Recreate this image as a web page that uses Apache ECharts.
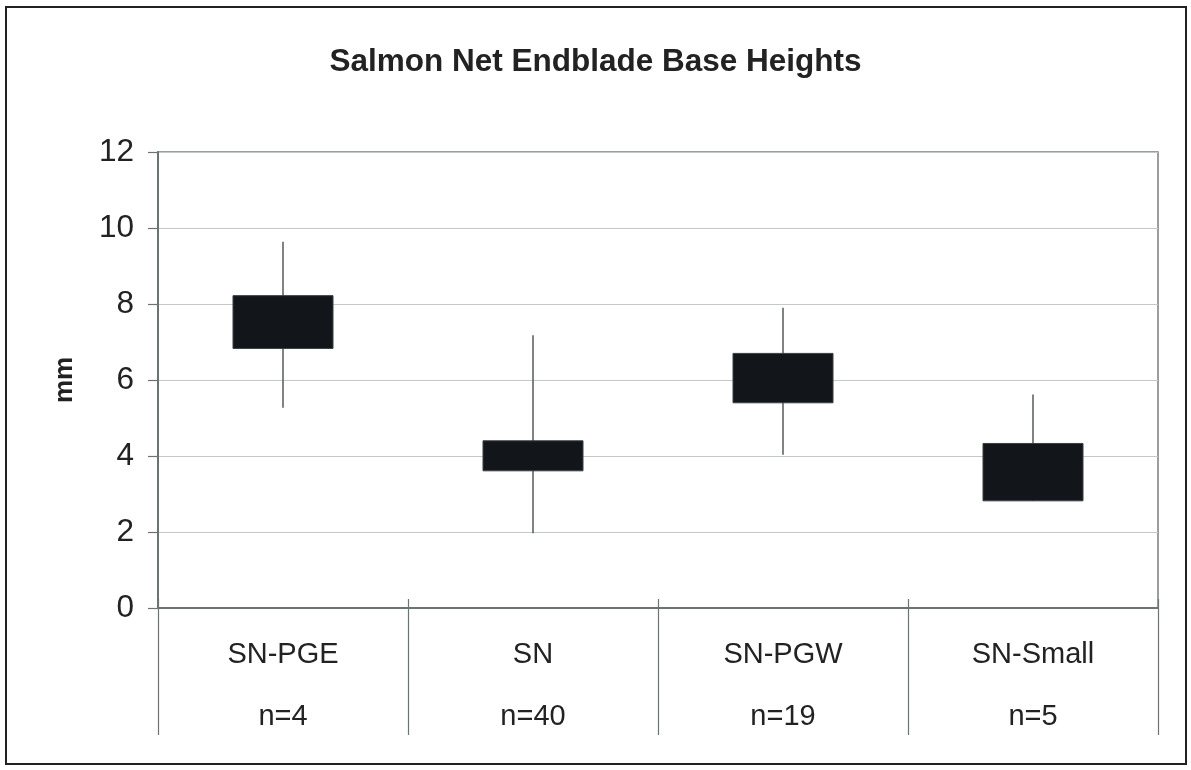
<!DOCTYPE html>
<html>
<head>
<meta charset="utf-8">
<script src="https://cdn.jsdelivr.net/npm/echarts@6/dist/echarts.min.js"></script>
<style>
html,body{margin:0;padding:0;background:#fff;}
#chart{width:1191px;height:770px;}
</style>
</head>
<body>
<div id="chart"></div>
<script>
const titleText = 'Salmon Net Endblade Base Heights';
const categories = ['SN-PGE', 'SN', 'SN-PGW', 'SN-Small'];
const nLabels = ['n=4', 'n=40', 'n=19', 'n=5'];
const boxLow = [6.83, 3.61, 5.40, 2.82];
const boxHigh = [8.22, 4.40, 6.70, 4.33];
const whiskerLow = [5.27, 1.97, 4.03, 2.82];
const whiskerHigh = [9.64, 7.18, 7.90, 5.62];
const yTicks = [0, 2, 4, 6, 8, 10, 12];

const seriesData = categories.map((c, i) => [i, boxLow[i], boxHigh[i], whiskerLow[i], whiskerHigh[i]]);

const chart = echarts.init(document.getElementById('chart'));
const font = '"Liberation Sans", Arial, Helvetica, sans-serif';

chart.setOption({
  animation: false,
  backgroundColor: '#ffffff',
  textStyle: { fontFamily: font },
  title: {
    text: titleText,
    left: 'center',
    top: 41,
    textStyle: { fontFamily: font, fontSize: 31.5, fontWeight: 'bold', color: '#222' }
  },
  graphic: [{
    type: 'rect',
    shape: { x: 6, y: 7, width: 1180, height: 757 },
    style: { fill: null, stroke: '#222', lineWidth: 2 },
    silent: true
  }],
  grid: {
    left: 158, right: 33, top: 152, bottom: 162,
    show: true, borderColor: '#7a7f7f', borderWidth: 1.5, backgroundColor: 'transparent'
  },
  xAxis: [{
    type: 'category',
    data: categories,
    boundaryGap: true,
    axisLine: { lineStyle: { color: '#6b7373', width: 2 } },
    axisTick: { show: true, length: 127, lineStyle: { color: '#6b7373', width: 1.2 } },
    axisLabel: {
      margin: 16,
      fontSize: 29,
      color: '#222',
      lineHeight: 62,
      formatter: (v, i) => v + '\n' + nLabels[i]
    },
    splitLine: { show: false }
  }, {
    type: 'category',
    data: categories,
    boundaryGap: true,
    position: 'bottom',
    axisLine: { show: false },
    axisTick: { show: true, inside: true, length: 9, lineStyle: { color: '#6b7373', width: 1.2 } },
    axisLabel: { show: false },
    splitLine: { show: false }
  }],
  yAxis: {
    type: 'value',
    min: 0, max: 12, interval: 2,
    name: 'mm',
    nameLocation: 'middle',
    nameGap: 80,
    nameRotate: 90,
    nameTextStyle: { fontFamily: font, fontSize: 26, fontWeight: 'bold', color: '#222' },
    axisLine: { show: true, lineStyle: { color: '#6b7373', width: 2 } },
    axisTick: { show: true, length: 10, lineStyle: { color: '#6b7373', width: 1.2 } },
    axisLabel: { margin: 24, fontSize: 31.5, color: '#222', formatter: v => yTicks.includes(v) ? String(v) : '' },
    splitLine: { show: true, lineStyle: { color: '#c4c8c8', width: 1.2 } }
  },
  series: [{
    type: 'custom',
    xAxisIndex: 0,
    data: seriesData,
    encode: { x: 0, y: [1, 2, 3, 4] },
    renderItem: function (params, api) {
      const x = api.value(0);
      const lo = api.coord([x, api.value(1)]);
      const hi = api.coord([x, api.value(2)]);
      const wLo = api.coord([x, api.value(3)]);
      const wHi = api.coord([x, api.value(4)]);
      const w = api.size([1, 0])[0] * 0.4;
      return {
        type: 'group',
        children: [{
          type: 'line',
          shape: { x1: wLo[0], y1: wLo[1], x2: wHi[0], y2: wHi[1] },
          style: { stroke: '#555a5a', lineWidth: 1.5 }
        }, {
          type: 'rect',
          shape: { x: hi[0] - w / 2, y: hi[1], width: w, height: lo[1] - hi[1] },
          style: { fill: '#12161a', stroke: '#3a3f3f', lineWidth: 1 }
        }]
      };
    }
  }]
});
</script>
</body>
</html>
